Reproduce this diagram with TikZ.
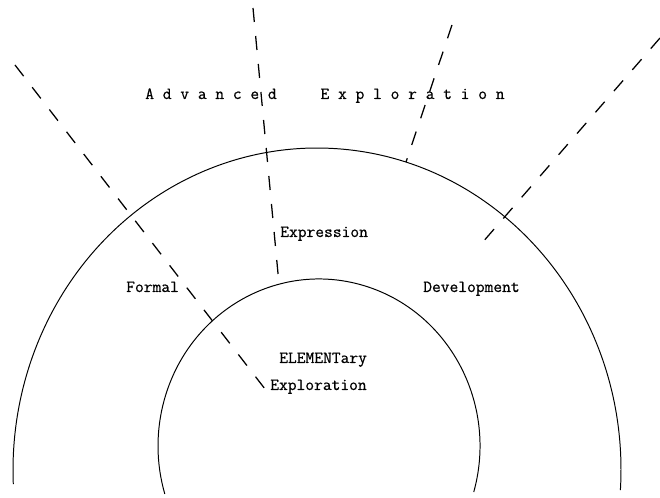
\documentclass[tikz,border=0pt]{standalone}
\usepackage{fontspec}
\newfontfamily\typewriter{lmmono12-regular}[Extension=.otf, FakeBold=0.6]

\begin{document}
\begin{tikzpicture}[x=0.025cm, y=0.025cm,
    txt/.style={font=\typewriter\fontsize{12.1}{14}\selectfont, inner sep=0pt, anchor=base west},
    arch/.style={line width=0.7pt},
    ray/.style={line width=0.9pt, dash pattern=on 10pt off 10pt}]
    \useasboundingbox (0,0) rectangle (660,498);

    % centres of the two arches
    \coordinate (outer) at (317,28);
    \coordinate (inner) at (319,52);

    % outer and inner arches
    \draw[arch, shift={(outer)}] (-3.6:304 and 322) arc[start angle=-3.6, end angle=182.5, x radius=304, y radius=322];
    \draw[arch, shift={(inner)}] (-16:161 and 167) arc[start angle=-16, end angle=196.7, x radius=161, y radius=167];

    % ends of the dashed rays
    \coordinate (leftTop) at (15,433);   \coordinate (leftEnd) at (265,109);
    \coordinate (midTop) at (253,490);   \coordinate (midEnd) at (279,214);
    \coordinate (upperTop) at (452,473); \coordinate (upperEnd) at (406,336);
    \coordinate (rightTop) at (660,460); \coordinate (rightEnd) at (482,255);

    % dashed rays
    \draw[ray] (leftTop) -- (leftEnd);
    \draw[ray] (midTop) -- (midEnd);
    \draw[ray] (upperTop) -- (upperEnd);
    \draw[ray] (rightTop) -- (rightEnd);

    % texts
    \node[txt] (adv) at (145,399) {A~d~v~a~n~c~e~d~~~~~E~x~p~l~o~r~a~t~i~o~n};
    \node[txt] (expr) at (280,261) {Expression};
    \node[txt] (formal) at (126,206) {Formal};
    \node[txt] (devel) at (423,206) {Development};
    \node[txt] (elem) at (279,135) {ELEMENTary};
    \node[txt] (explo) at (270,108) {Exploration};
\end{tikzpicture}
\end{document}
